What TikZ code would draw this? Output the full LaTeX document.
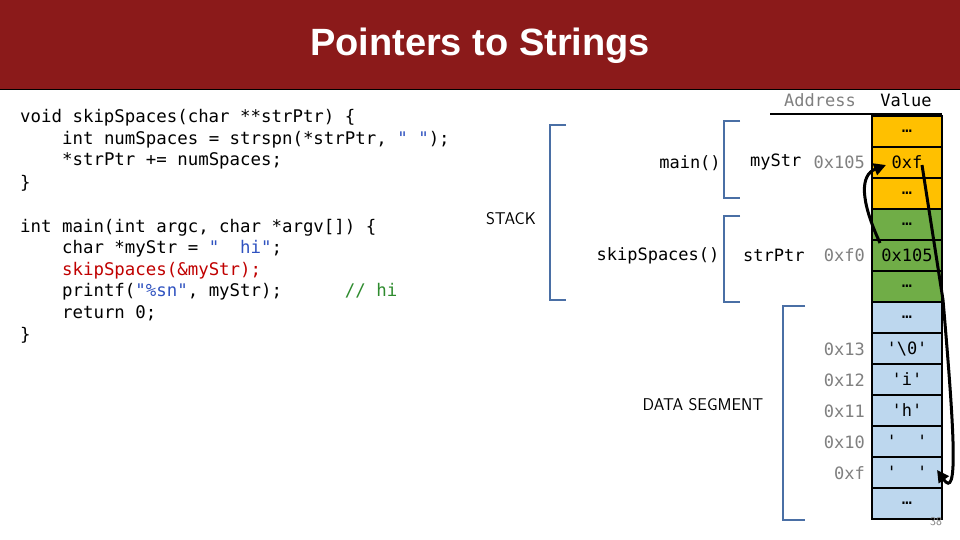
\documentclass[tikz,border=0pt]{standalone}
\usepackage{fontspec}
\setmainfont{Liberation Sans}
\setmonofont{DejaVu Sans Mono}
\usetikzlibrary{arrows.meta}
\definecolor{titlered}{HTML}{8B1A1A}
\definecolor{cy}{HTML}{FFC000}
\definecolor{cg}{HTML}{70AD47}
\definecolor{cb}{HTML}{BDD7EE}
\definecolor{brk}{HTML}{4A6FA5}
\definecolor{strblue}{HTML}{2F52C0}
\definecolor{kred}{HTML}{C00000}
\definecolor{cmt}{HTML}{2E8B2E}
\definecolor{addr}{HTML}{808080}
\begin{document}
\begin{tikzpicture}[x=1pt,y=-1pt,
  code/.style={anchor=base west,inner sep=0,font=\fontsize{17.4}{20}\ttfamily},
  cell/.style={draw=black,line width=1.5pt,minimum width=70pt,minimum height=31pt,inner sep=0,font=\fontsize{17}{20}\ttfamily},
  lab/.style={anchor=base east,inner sep=0,font=\fontsize{17}{20}\ttfamily},
  bracket/.style={draw=brk,line width=1.5pt},
  arr/.style={line width=3pt,-{Triangle[length=12pt,width=12pt]}}]
\useasboundingbox (0,0) rectangle (960,540);
\fill[white] (0,0) rectangle (960,540);
\fill[titlered] (0,0) rectangle (960,90);
\draw[black,line width=1pt] (0,90) -- (960,90);
\node[text=white,font=\fontsize{38}{44}\bfseries] (title) at (480,46) {Pointers to Strings};
% code
\node[code] (c1) at (20,123) {void skipSpaces(char **strPtr) \{};
\node[code] (c2) at (20,145) {\ \ \ \ int numSpaces = strspn(*strPtr, \textcolor{strblue}{" "});};
\node[code] (c3) at (20,166) {\ \ \ \ *strPtr += numSpaces;};
\node[code] (c4) at (20,188) {\}};
\node[code] (c5) at (20,232) {int main(int argc, char *argv[]) \{};
\node[code] (c6) at (20,253) {\ \ \ \ char *myStr = \textcolor{strblue}{"\ \ hi"};};
\node[code] (c7) at (20,275) {\ \ \ \ \textcolor{kred}{skipSpaces(\&myStr);}};
\node[code] (c8) at (20,296) {\ \ \ \ printf(\textcolor{strblue}{"\%sn"}, myStr);\ \ \ \ \ \ \textcolor{cmt}{// hi}};
\node[code] (c9) at (20,318) {\ \ \ \ return 0;};
\node[code] (c10) at (20,340) {\}};
% brackets
\draw[bracket] (566,125) -- (550,125) -- (550,300) -- (566,300);
\draw[bracket] (740,121) -- (724,121) -- (724,198) -- (740,198);
\draw[bracket] (740,216) -- (724,216) -- (724,302) -- (740,302);
\draw[bracket] (805,306) -- (783,306) -- (783,520) -- (805,520);
\node[font=\fontsize{17}{20}\sffamily] (stack) at (511,219) {STACK};
\node[font=\fontsize{17}{20}\sffamily] (data) at (703,405) {DATA SEGMENT};
\node[font=\fontsize{17}{20}\ttfamily] (main) at (690,163) {main()};
\node[font=\fontsize{17}{20}\ttfamily] (skip) at (658,256) {skipSpaces()};
% header
\node[font=\fontsize{17}{20}\ttfamily,text=addr] (haddr) at (820,100) {Address};
\node[font=\fontsize{17}{20}\ttfamily] (hval) at (906,100) {Value};
\draw[line width=1.5pt] (770,114) -- (942,114);
% cells
\foreach \i/\c/\t in {0/cy/\dots,1/cy/0xf,2/cy/\dots,3/cg/\dots,4/cg/0x105,5/cg/\dots,6/cb/\dots,7/cb/'\textbackslash0',8/cb/'i',9/cb/'h',10/cb/'\ \ ',11/cb/'\ \ ',12/cb/\dots}
  \node[cell,fill=\c] (r\i) at (907,{131.5+31*\i}) {\t};
% labels
\node[font=\fontsize{17}{20}\ttfamily,anchor=base west,inner sep=0] (lmy) at (750,167) {myStr};
\node[lab,text=addr] (a1) at (865,168) {0x105};
\node[font=\fontsize{17}{20}\ttfamily,anchor=base west,inner sep=0] (lsp) at (743,261) {strPtr};
\node[lab,text=addr] (a4) at (865,261) {0xf0};
\node[lab,text=addr] (a7) at (865,355) {0x13};
\node[lab,text=addr] (a8) at (865,386) {0x12};
\node[lab,text=addr] (a9) at (865,417) {0x11};
\node[lab,text=addr] (a10) at (865,448) {0x10};
\node[lab,text=addr] (a11) at (865,479) {0xf};
\node[font=\fontsize{12}{14}\sffamily,text=addr] (pg) at (936,522) {38};
% arrows
\coordinate (s1) at (880,243);
\coordinate (e1) at (886,165);
\draw[arr] (s1) .. controls (860,200) and (860,175) .. (e1);
\coordinate (s2) at (922,165);
\coordinate (e2) at (937,470);
\draw[arr] (s2) -- (943,300) .. controls (955,440) and (958,500) .. (e2);
\end{tikzpicture}
\end{document}
